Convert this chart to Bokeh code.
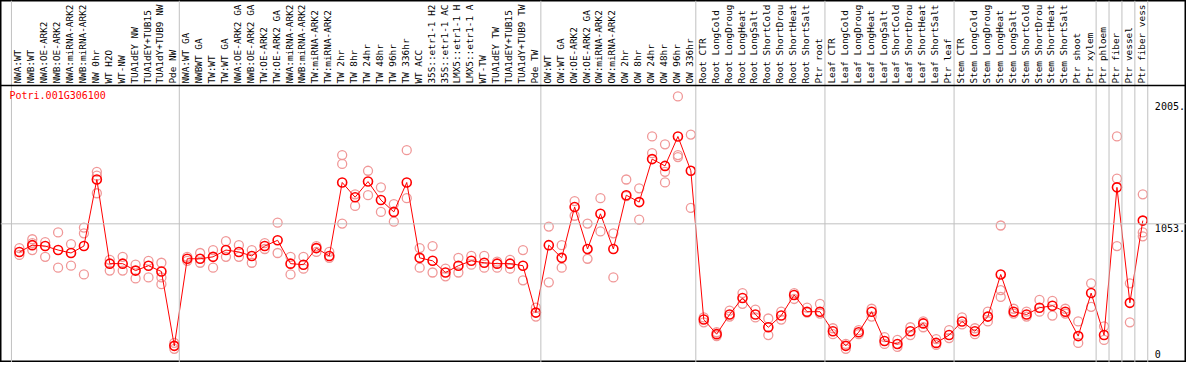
from bokeh.plotting import figure
from bokeh.models import Range1d, Span, Label
from bokeh.core.properties import value
from bokeh.embed import file_html
from bokeh.resources import INLINE
import numpy as np

GENE = "Potri.001G306100"

samples = [
    "NWA:WT", "NWB:WT", "NWA:OE-ARK2", "NWB:OE-ARK2", "NWA:miRNA-ARK2", "NWB:miRNA-ARK2",
    "NW 0hr", "WT H2O", "WT-NW", "TUA1dEY NW", "TUA1dEY+TUB15", "TUA1dY+TUB9 NW", "Pde NW",
    "NWA:WT GA", "NWBWT GA", "TW:WT", "TW:WT GA", "NWA:OE-ARK2 GA", "NWB:OE-ARK2 GA",
    "TW:OE-ARK2", "TW:OE-ARK2 GA", "NWA:miRNA-ARK2", "NWB:miRNA-ARK2", "TW:miRNA-ARK2",
    "TW:miRNA-ARK2", "TW 2hr", "TW 8hr", "TW 24hr", "TW 48hr", "TW 96hr", "TW 336hr", "WT ACC",
    "35S::etr1-1 H2", "35S::etr1-1 AC", "LMX5::etr1-1 H", "LMX5::etr1-1 A", "WT-TW",
    "TUA1dEY TW", "TUA1dEY+TUB15", "TUA1dY+TUB9 TW", "Pde TW",
    "OW:WT", "OW:WT GA", "OW:OE-ARK2", "OW:OE-ARK2 GA", "OW:miRNA-ARK2", "OW:miRNA-ARK2",
    "OW 2hr", "OW 8hr", "OW 24hr", "OW 48hr", "OW 96hr", "OW 336hr",
    "Root CTR", "Root LongCold", "Root LongDroug", "Root LongHeat", "Root LongSalt",
    "Root ShortCold", "Root ShortDrou", "Root ShortHeat", "Root ShortSalt", "Ptr root",
    "Leaf CTR", "Leaf LongCold", "Leaf LongDroug", "Leaf LongHeat", "Leaf LongSalt",
    "Leaf ShortCold", "Leaf ShortDrou", "Leaf ShortHeat", "Leaf ShortSalt", "Ptr leaf",
    "Stem CTR", "Stem LongCold", "Stem LongDroug", "Stem LongHeat", "Stem LongSalt",
    "Stem ShortCold", "Stem ShortDrou", "Stem ShortHeat", "Stem ShortSalt", "Ptr shoot", "Ptr xylem",
    "Ptr phloem", "Ptr fiber", "Ptr vessel", "Ptr fiber vess",
]

group_sizes = [13, 28, 12, 10, 10, 11, 1, 1, 1, 1]

means = [
    834, 887, 880, 849, 826, 880, 1398, 743, 743, 689, 727, 682, 103,
    781, 781, 796, 849, 834, 803, 880, 925, 743, 735, 864, 803, 1375, 1260, 1382, 1238, 1146,
    1375, 788, 765, 674, 727, 765, 750, 743, 743, 727, 362,
    887, 788, 1184, 857, 1131, 857, 1276, 1222, 1557, 1504, 1733, 1466,
    308, 194, 347, 476, 347, 248, 339, 499, 369, 369,
    217, 103, 209, 369, 141, 118, 217, 278, 126, 187,
    293, 217, 331, 659, 369, 347, 400, 415, 369, 179, 514,
    187, 1337, 438, 1078,
]

rep1 = [
    864, 933, 910, 986, 895, 1024, 1458, 773, 796, 735, 765, 750, 126,
    796, 826, 849, 918, 887, 849, 902, 1062, 796, 796, 880, 834, 1588, 1283, 1466, 1337, 1207,
    1626, 864, 880, 704, 788, 803, 803, 758, 773, 849, 400,
    1032, 887, 1230, 1055, 1253, 979, 1398, 1329, 1733, 1672, 2045, 1748,
    324, 209, 377, 514, 385, 316, 369, 514, 400, 430,
    240, 118, 225, 392, 171, 149, 248, 293, 156, 225,
    324, 240, 369, 1040, 392, 369, 461, 453, 392, 293, 590,
    255, 1733, 590, 1283,
]

rep2 = [
    811, 902, 796, 712, 727, 979, 1428, 689, 689, 628, 636, 636, 80,
    765, 750, 712, 796, 796, 750, 857, 826, 659, 704, 834, 788, 1519, 1192, 1276, 1146, 1070,
    1253, 712, 674, 644, 674, 735, 712, 712, 704, 613, 331,
    598, 712, 1116, 781, 994, 636, 1268, 1085, 1603, 1458, 1588, 1177,
    286, 179, 331, 430, 324, 187, 308, 468, 362, 354,
    194, 80, 194, 331, 118, 95, 187, 248, 110, 164,
    270, 194, 293, 537, 354, 331, 369, 339, 354, 126, 407,
    149, 1405, 286, 986,
]

rep3 = [
    None, 849, None, None, None, 659, 1291, None, None, None, None, 583, None,
    None, None, None, None, None, None, None, None, None, None, None, None, 1055, None, None, None, None,
    None, None, None, None, None, None, None, None, None, None, None,
    None, None, None, None, None, None, None, None, None, 1375, 1573, None,
    None, None, None, None, None, None, None, None, None, None,
    None, None, None, None, None, None, None, None, None, None,
    None, None, None, 484, None, None, None, None, None, None, None,
    None, 880, None, 956,
]

y_ticks = [0, 1053, 2005]
y_tick_labels = ["0", "1053.", "2005."]

# ---- layout (in data units of the frame) ----
N = len(samples)
W, H = 1186, 362
X0, X1 = -0.846, 91.0
Y0, Y1 = -26.5, 2791.5
HEADER = 2129          # line separating the sample labels from the plot
GRID_Y = 1053
MONO = value("DejaVu Sans Mono")

p = figure(width=W, height=H, output_backend="svg", toolbar_location=None,
           x_range=Range1d(X0, X1), y_range=Range1d(Y0, Y1),
           x_axis_location=None, y_axis_location=None, min_border=0,
           background_fill_color="white", border_fill_color="white")
p.grid.visible = False
p.outline_line_color = "black"
p.outline_line_width = 2

# group separators
bounds = [0]
for g in group_sizes:
    bounds.append(bounds[-1] + g)
for b in bounds:
    p.add_layout(Span(location=b, dimension="height", line_color="#c0c0c0", line_width=1))

p.add_layout(Span(location=GRID_Y, dimension="width", line_color="#c0c0c0", line_width=1))
p.add_layout(Span(location=HEADER, dimension="width", line_color="black", line_width=1.5))

# sample labels (rotated)
xs_lab = [i + 0.5 for i in range(N)]
p.text(x=xs_lab, y=[HEADER] * N, text=samples, angle=np.pi / 2,
       text_align="left", text_baseline="middle", y_offset=-2,
       text_font=MONO, text_font_size="9.4px", text_color="black")

# replicates
xs = [i + 0.615 for i in range(N)]
rx, ry = [], []
for r in (rep1, rep2, rep3):
    for i, v in enumerate(r):
        if v is not None:
            rx.append(xs[i]); ry.append(v)
p.scatter(rx, ry, marker="circle", size=9, fill_color=None,
          line_color="#f09898", line_width=1.3)

# mean line + markers
p.line(xs, means, line_color="#ff0000", line_width=1)
p.scatter(xs, means, marker="circle", size=9, fill_color=None,
          line_color="#ff0000", line_width=1.6)

# value labels on the right
for t, lab in zip(y_ticks, y_tick_labels):
    off = -5 if t == 0 else 4
    p.text(x=[N + 0.55], y=[t], text=[lab], text_align="left", text_baseline="middle",
           y_offset=off, text_font=MONO, text_font_size="10px", text_color="black")

p.add_layout(Label(x=9, y=H - 95, x_units="screen", y_units="screen", text=GENE,
                   text_font="DejaVu Sans Mono", text_font_size="10px",
                   text_color="#ff0000", text_baseline="middle"))

open("out.html", "w").write(file_html(p, INLINE))
